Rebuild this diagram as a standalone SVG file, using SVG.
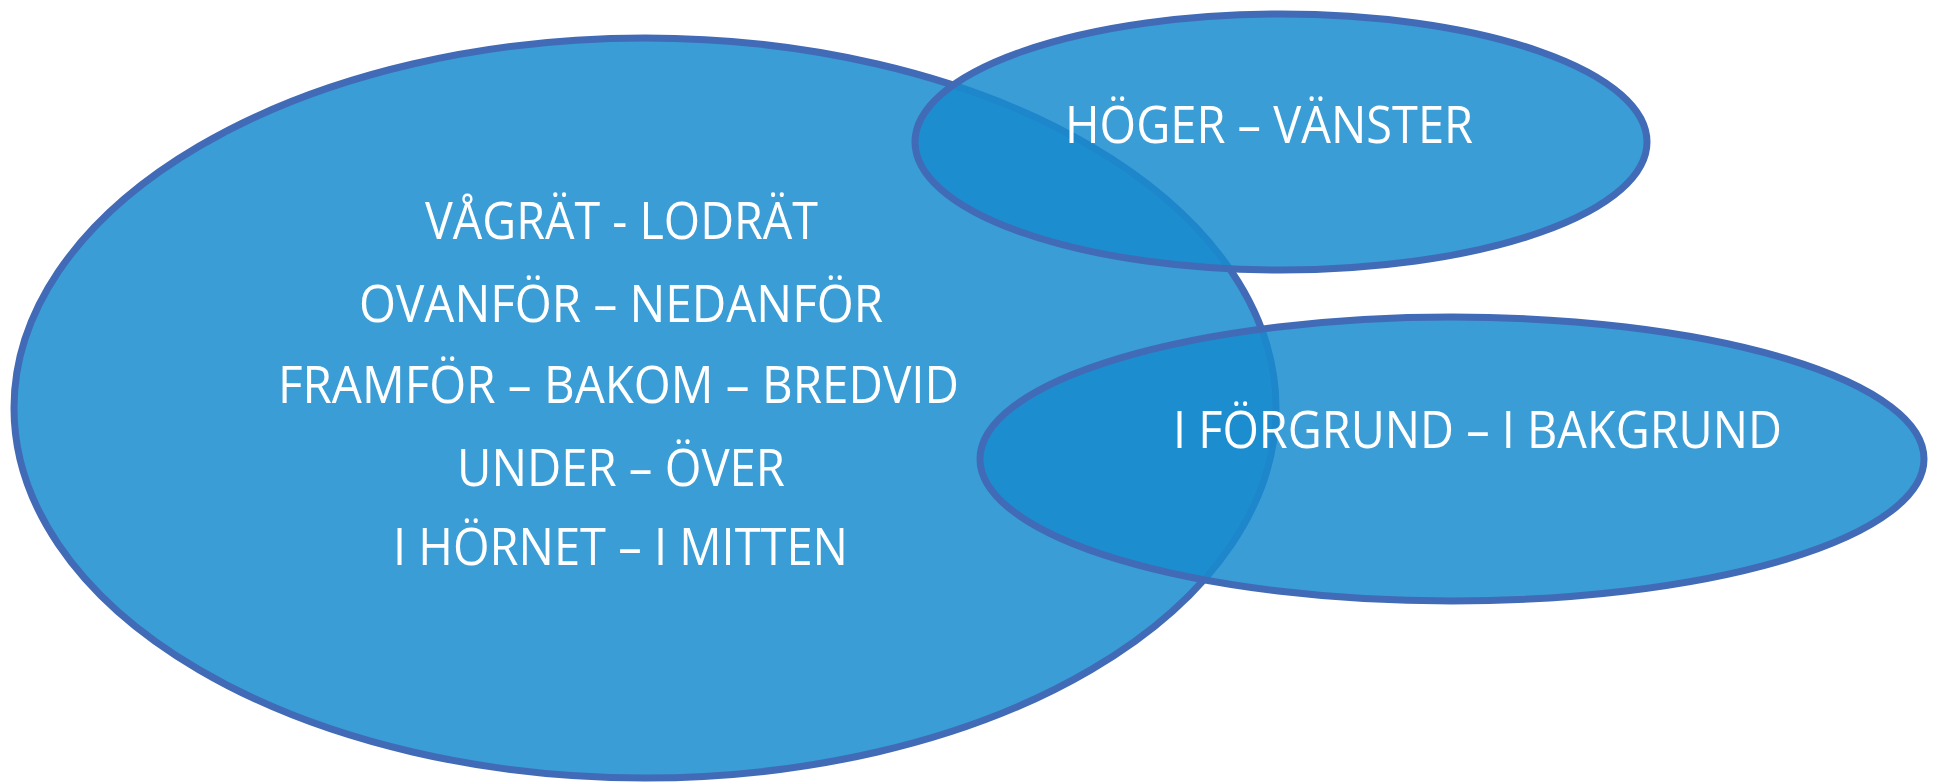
<svg xmlns="http://www.w3.org/2000/svg" width="1940" height="782" viewBox="0 0 1940 782">
<style>
.node{fill:rgb(23,140,207);fill-opacity:0.85;stroke:rgb(66,107,183);stroke-width:7}
.lbl{font-family:"Open Sans","Liberation Sans",sans-serif;font-size:51px;fill:#ffffff}
</style>
<rect width="1940" height="782" fill="#ffffff"/>
<g id="connectors"/>
<g id="node-main">
<ellipse class="node" cx="645" cy="408" rx="631" ry="370"/>
<text class="lbl" x="425" y="239" textLength="393" lengthAdjust="spacingAndGlyphs">VÅGRÄT - LODRÄT</text>
<text class="lbl" x="359" y="322" textLength="524" lengthAdjust="spacingAndGlyphs">OVANFÖR – NEDANFÖR</text>
<text class="lbl" x="278" y="403" textLength="681" lengthAdjust="spacingAndGlyphs">FRAMFÖR – BAKOM – BREDVID</text>
<text class="lbl" x="457" y="486" textLength="328" lengthAdjust="spacingAndGlyphs">UNDER – ÖVER</text>
<text class="lbl" x="393" y="565" textLength="455" lengthAdjust="spacingAndGlyphs">I HÖRNET – I MITTEN</text>
</g>
<g id="node-hoger">
<ellipse class="node" cx="1281" cy="142" rx="366" ry="128"/>
<text class="lbl" x="1065" y="143" textLength="408" lengthAdjust="spacingAndGlyphs">HÖGER – VÄNSTER</text>
</g>
<g id="node-forgrund">
<ellipse class="node" cx="1452" cy="459" rx="472" ry="142"/>
<text class="lbl" x="1173" y="448" textLength="609" lengthAdjust="spacingAndGlyphs">I FÖRGRUND – I BAKGRUND</text>
</g>
</svg>
